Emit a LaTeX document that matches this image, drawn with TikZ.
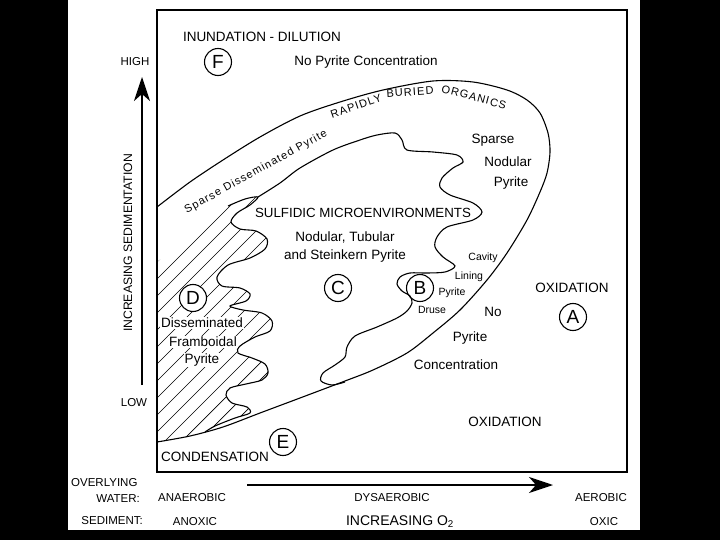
\documentclass[tikz,border=0pt]{standalone}
\usepackage{fontspec}
\setmainfont{Liberation Sans}
\newfontfamily\spacedfont[LetterSpace=10]{Liberation Sans}
\usetikzlibrary{arrows.meta}

\begin{document}
\begin{tikzpicture}[x=1pt,y=-1pt,
    lbl/.style={font=\fontsize{13.5}{13.5}\selectfont, inner sep=0pt},
    small/.style={font=\fontsize{10.5}{10.5}\selectfont, inner sep=0pt},
    side/.style={font=\fontsize{11.5}{11.5}\selectfont, inner sep=0pt},
    bent/.style={font=\spacedfont\fontsize{11}{11}\selectfont, inner sep=0pt},
    letter/.style={draw, circle, line width=1.1pt, minimum size=27pt, inner sep=0pt, font=\fontsize{19}{19}\selectfont},
    curve/.style={line width=1.1pt},
    hatchline/.style={line width=0.7pt},
    axis/.style={line width=1.6pt, -{Stealth[length=24pt,width=16pt,inset=7pt]}}]

    % Page
    \fill[black] (0,0) rectangle (720,540);
    \fill[white] (68,0) rectangle (640,530);

    % Hatched zone (D)
    \begin{scope}
        \clip (157,262) -- plot[smooth] coordinates {(228,206) (245,199) (258,197) (250,205) (237,213) (231,222) (240,229) (256,231) (267,239) (265,249) (250,258) (228,265) (217,277) (222,286) (240,288) (250,294) (246,301) (230,306) (243,310) (262,313) (272,321) (270,331) (255,337) (240,346) (238,353) (252,358) (265,364) (268,373) (262,380) (246,384) (230,388) (226,395) (232,403) (247,407) (250,413) (235,418) (215,426) (205,432)} -- (190,436) -- (157,442) -- cycle;
        \foreach \c in {419,436,...,700}
            \draw[hatchline] ({\c-460},460) -- ({\c-150},150);
    \end{scope}
    \draw[curve] plot[smooth] coordinates {(228,206) (245,199) (258,197) (250,205) (237,213) (231,222) (240,229) (256,231) (267,239) (265,249) (250,258) (228,265) (217,277) (222,286) (240,288) (250,294) (246,301) (230,306) (243,310) (262,313) (272,321) (270,331) (255,337) (240,346) (238,353) (252,358) (265,364) (268,373) (262,380) (246,384) (230,388) (226,395) (232,403) (247,407) (250,413) (235,418) (215,426) (205,432)};

    % Frame
    \draw[line width=1.6pt] (157,10) rectangle (627,472);

    % Outer loop
    \draw[curve] plot[smooth] coordinates {(157,207) (190,182) (223,160) (260,137) (300,116) (340,102) (383,90) (433,81) (473,82) (507,90) (527,100) (540,113) (548,133) (550,152) (547,173) (540,192) (527,220) (507,253) (487,280) (460,310) (433,333) (407,353) (373,370) (345,381) (300,398) (260,413) (223,427) (190,436) (157,442)};

    % Sulfidic zone boundary
    \draw[curve] plot[smooth] coordinates {(258,197) (280,183) (300,168) (333,150) (360,140) (377,135) (395,133) (402,140) (407,150) (433,152) (457,155) (463,162) (453,168) (442,178) (440,187) (450,195) (473,203) (482,212) (473,220) (447,227) (437,237) (435,247) (443,257) (455,266) (445,272) (427,273) (410,273) (400,277) (397,284) (402,291) (410,296) (412,303) (407,311) (397,318) (377,327) (355,336) (347,347) (345,357) (335,365) (323,373) (321,381) (332,385) (345,382)};

    % Labels along the curves
    \node[bent, rotate=19] (rapidly) at (356,106) {RAPIDLY};
    \node[bent, rotate=4] (buried) at (410,92) {BURIED};
    \node[bent, rotate=-15] (organics) at (474,97) {ORGANICS};
    \node[bent, rotate=29] (sparseband) at (256,172) {Sparse Disseminated Pyrite};

    % Top labels
    \node[lbl] (inund) at (262,37) {INUNDATION - DILUTION};
    \node[letter] (F) at (218,62) {F};
    \node[lbl] (nopyr) at (366,62) {No Pyrite Concentration};

    % Inside the loop
    \node[lbl] (sparse) at (493,140) {Sparse};
    \node[lbl] (nodular) at (508,162) {Nodular};
    \node[lbl] (pyriteA) at (511,183) {Pyrite};
    \node[lbl, font=\fontsize{13.3}{13.3}\selectfont] (sulf) at (363,213) {SULFIDIC MICROENVIRONMENTS};
    \node[lbl] (tubular) at (345,237) {Nodular, Tubular};
    \node[lbl] (stein) at (345,256) {and Steinkern Pyrite};
    \node[letter] (C) at (338,288) {C};
    \node[letter, fill=white] (D) at (193,298) {D};
    \node[lbl, fill=white, inner sep=1pt] (dissem) at (202,323) {Disseminated};
    \node[lbl, fill=white, inner sep=1pt] (framb) at (203,342) {Framboidal};
    \node[lbl, fill=white, inner sep=1pt] (pyriteD) at (202,360) {Pyrite};
    \node[letter] (B) at (420,288) {B};
    \node[small] (cavity) at (483,258) {Cavity};
    \node[small] (lining) at (469,277) {Lining};
    \node[small] (pyriteB) at (452,293) {Pyrite};
    \node[small] (druse) at (432,310) {Druse};

    % Outside the loop
    \node[lbl] (no) at (493,312) {No};
    \node[lbl] (pyriteN) at (470,338) {Pyrite};
    \node[lbl] (conc) at (456,365) {Concentration};
    \node[lbl] (oxA) at (572,288) {OXIDATION};
    \node[letter] (A) at (573,317) {A};
    \node[lbl] (oxB) at (505,422) {OXIDATION};
    \node[lbl] (cond) at (215,457) {CONDENSATION};
    \node[letter] (E) at (283,442) {E};

    % Sedimentation axis
    \coordinate (sedlow) at (142,385);
    \coordinate (sedhigh) at (142,77);
    \draw[axis] (sedlow) -- (sedhigh);
    \node[side] (high) at (135,62) {HIGH};
    \node[side] (low) at (134,403) {LOW};
    \node[font=\fontsize{12.2}{12.2}\selectfont, inner sep=0pt, rotate=90] (sedlbl) at (128,243) {INCREASING SEDIMENTATION};

    % Oxygen axis
    \coordinate (oxlow) at (247,485);
    \coordinate (oxhigh) at (553,485);
    \draw[axis] (oxlow) -- (oxhigh);
    \node[side, anchor=west] (overl) at (71,483) {OVERLYING};
    \node[side, anchor=east] (water) at (140,499) {WATER:};
    \node[side, anchor=east] (sedim) at (143,521) {SEDIMENT:};
    \node[side] (anaer) at (192,498) {ANAEROBIC};
    \node[side] (dysaer) at (392,498) {DYSAEROBIC};
    \node[side] (aer) at (601,498) {AEROBIC};
    \node[side] (anox) at (195,522) {ANOXIC};
    \node[font=\fontsize{14}{14}\selectfont, inner sep=0pt] (incox) at (400,522) {INCREASING O\textsubscript{2}};
    \node[side] (oxic) at (604,522) {OXIC};
\end{tikzpicture}
\end{document}
